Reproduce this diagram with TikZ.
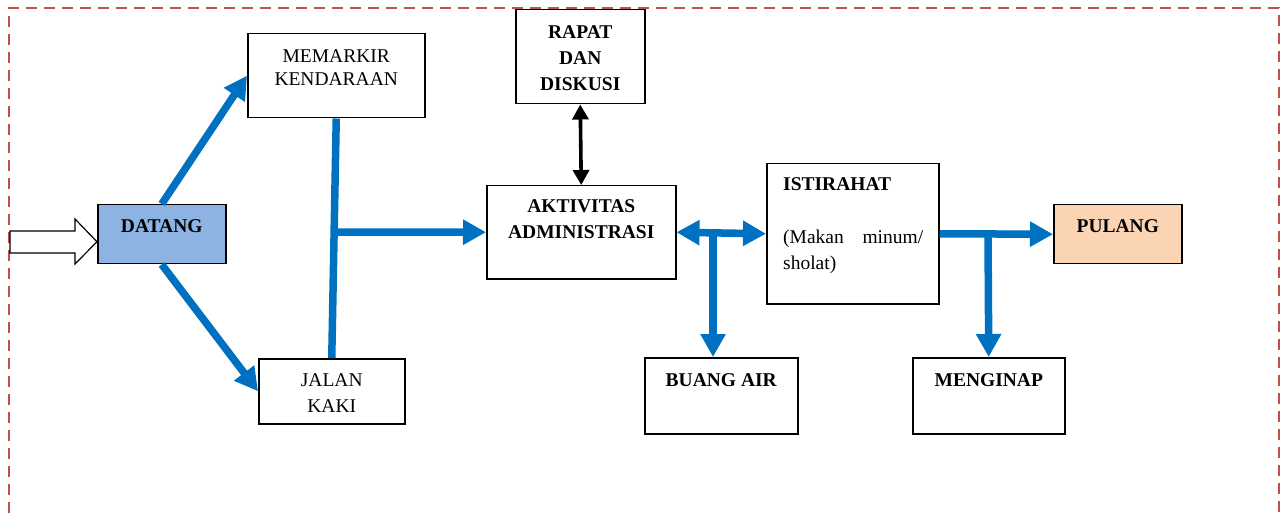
\documentclass[tikz,border=0pt]{standalone}
\usepackage{fontspec}
\setmainfont{Liberation Serif}
\usetikzlibrary{arrows.meta}
\definecolor{flowblue}{HTML}{0070C0}
\definecolor{framered}{HTML}{C0504D}
\definecolor{startfill}{HTML}{8DB3E2}
\definecolor{endfill}{HTML}{FBD4B4}
\tikzset{
  box/.style={draw=black, line width=1.5pt, fill=white, rectangle, inner sep=0pt, anchor=north west},
  txt/.style={inner sep=0pt, align=center, font=\fontsize{19.5pt}{26pt}\selectfont},
  btxt/.style={txt, font=\fontsize{19.5pt}{26pt}\selectfont\bfseries},
  flow/.style={draw=flowblue, line width=7.5pt},
  flowtip/.style={flow, -{Triangle[length=23pt,width=24pt]}},
  flowboth/.style={flow, {Triangle[length=23pt,width=24pt]}-{Triangle[length=23pt,width=24pt]}},
  linkboth/.style={draw=black, line width=3.6pt, {Triangle[length=15pt,width=16pt]}-{Triangle[length=15pt,width=16pt]}}
}
\begin{document}
\begin{tikzpicture}[x=1pt,y=-1pt]
\useasboundingbox (0,0) rectangle (1288,513);

% dashed frame, open at the bottom
\draw[draw=framered, line width=2pt, dash pattern=on 11pt off 7pt]
  (9,513) -- (9,8) -- (1279,8) -- (1279,513);

% boxes
\node[box, fill=startfill, minimum width=128pt, minimum height=59pt] (datang) at (97,204) {};
\node[box, minimum width=177pt, minimum height=84pt] (parkir) at (247,33) {};
\node[box, minimum width=146pt, minimum height=65pt] (jalan) at (258,358) {};
\node[box, minimum width=129pt, minimum height=94pt] (rapat) at (515,9) {};
\node[box, minimum width=189pt, minimum height=93pt] (admin) at (486,185) {};
\node[box, minimum width=172pt, minimum height=140pt] (istirahat) at (766,163) {};
\node[box, minimum width=153pt, minimum height=76pt] (buang) at (644,357) {};
\node[box, minimum width=152pt, minimum height=76pt] (inap) at (912,357) {};
\node[box, fill=endfill, minimum width=128pt, minimum height=59pt] (pulang) at (1053,204) {};

% box texts
\node[btxt, anchor=north] (tdatang) at ([yshift=-15pt]datang.north) {DATANG};
\node[txt, anchor=north] (tparkir) at ([yshift=-16pt]parkir.north) {MEMARKIR\\[-3pt]KENDARAAN};
\node[txt, anchor=north] (tjalan) at ([yshift=-15pt]jalan.north) {JALAN\\KAKI};
\node[btxt, anchor=north] (trapat) at ([yshift=-16pt]rapat.north) {RAPAT\\DAN\\DISKUSI};
\node[btxt, anchor=north] (tadmin) at ([yshift=-14pt]admin.north) {AKTIVITAS\\ADMINISTRASI};
\node[txt, align=left, text width=140pt, anchor=north west] (tist)
  at ([xshift=17pt,yshift=-14.5pt]istirahat.north west)
  {\textbf{ISTIRAHAT}\\[27pt](Makan\hfill minum/\\sholat)};
\node[btxt, anchor=north] (tbuang) at ([yshift=-16pt]buang.north) {BUANG AIR};
\node[btxt, anchor=north] (tinap) at ([yshift=-16pt]inap.north) {MENGINAP};
\node[btxt, anchor=north] (tpulang) at ([yshift=-15pt]pulang.north) {PULANG};

% hollow entry arrow
\coordinate (entry) at ([yshift=-7.5pt]datang.west);
\draw[line width=1.2pt, fill=white]
  (10,231) -- (75,231) -- (75,219) -- (entry) -- (75,264) -- (75,253) -- (10,253) -- cycle;

% junction points on the blue lines
\coordinate (jleft) at (334,232);
\coordinate (jmid) at (713,232.3);
\coordinate (jright) at (988,233.3);

% blue flow
\draw[flowtip] (datang.north) -- (parkir.west);
\draw[flowtip] (datang.south) -- (jalan.west);
\draw[flow] (parkir.south) -- (jalan.north);
\draw[flowtip] (jleft) -- (admin.west);
\draw[flowboth] (admin.east) -- (istirahat.west);
\draw[flowtip] (jmid) -- (jmid |- buang.north);
\draw[flowtip] (istirahat.east) -- (pulang.west);
\draw[flowtip] (jright) -- (inap.north);

% meeting link
\draw[linkboth] (rapat.south) -- (admin.north);
\end{tikzpicture}
\end{document}
